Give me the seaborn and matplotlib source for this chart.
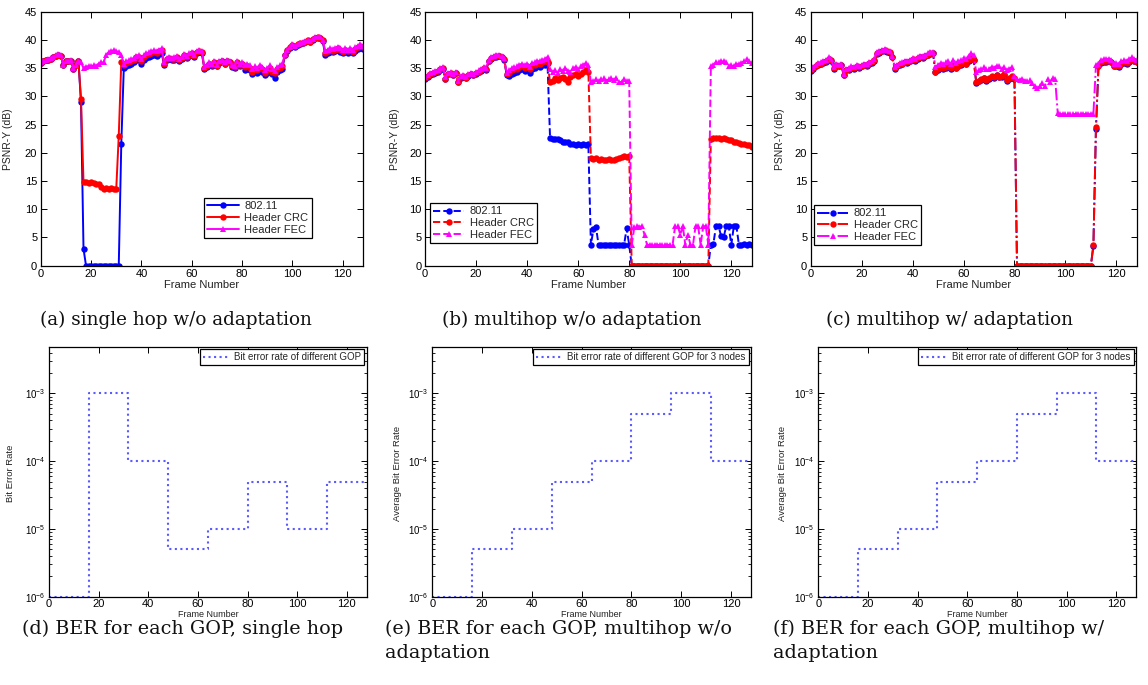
import matplotlib
matplotlib.use("Agg")
import matplotlib.pyplot as plt
import seaborn as sns
from matplotlib.ticker import LogLocator, NullFormatter

# frame index 0..128
FRAMES = list(range(129))
SERIES = ["802.11", "Header CRC", "Header FEC"]

# (a) single hop w/o adaptation, PSNR-Y in dB per frame
A_80211 = [
    35.9, 36.2, 36.4, 36.5, 36.7, 36.9, 37.2, 37.4, 37.2, 35.5, 36.2, 36.2, 36.3, 34.9, 35.5, 36.2,
    29.0, 3.0, 0, 0, 0, 0, 0, 0, 0, 0, 0, 0, 0, 0, 0, 0,
    21.5, 35.0, 35.4, 35.6, 35.8, 36.0, 36.4, 36.5, 35.8, 36.5, 36.8, 37.0, 37.2, 37.4, 37.2, 37.5,
    37.7, 35.6, 36.4, 36.6, 36.4, 36.5, 36.8, 36.2, 36.6, 37.1, 36.8, 37.2, 37.4, 36.9, 37.6, 37.9,
    37.6, 34.9, 35.2, 35.7, 35.4, 35.9, 35.3, 35.9, 36.2, 35.7, 36.2, 36.0, 35.2, 35.1, 35.9, 35.4,
    35.7, 34.7, 34.9, 34.6, 33.9, 34.4, 34.1, 34.7, 34.3, 33.7, 34.1, 34.6, 33.9, 33.3, 34.3, 34.6,
    34.9, 37.3, 38.1, 38.6, 39.0, 38.8, 39.1, 39.3, 39.4, 39.6, 39.8, 39.6, 40.0, 40.3, 40.4, 40.3,
    39.8, 37.4, 37.7, 37.9, 37.8, 38.0, 38.2, 37.9, 37.6, 38.0, 37.7, 38.0, 37.6, 38.1, 38.4, 38.6,
    38.4,
]
A_CRC = [
    35.9, 36.2, 36.4, 36.5, 36.7, 36.9, 37.2, 37.4, 37.2, 35.5, 36.2, 36.2, 36.3, 34.9, 35.5, 36.2,
    29.5, 14.8, 14.8, 14.7, 14.8, 14.7, 14.5, 14.4, 13.9, 13.6, 13.7, 13.5, 13.7, 13.6, 13.6, 23.0,
    36.0, 35.6, 35.9, 36.1, 36.3, 36.5, 36.9, 37.0, 36.3, 37.0, 37.3, 37.5, 37.7, 37.9, 37.7, 38.0,
    38.2, 35.8, 36.6, 36.8, 36.6, 36.7, 37.0, 36.4, 36.8, 37.3, 37.0, 37.4, 37.6, 37.1, 37.8, 38.1,
    37.8, 35.0, 35.3, 35.8, 35.5, 36.0, 35.4, 36.0, 36.3, 35.8, 36.3, 36.1, 35.3, 35.2, 36.0, 35.5,
    35.8, 35.2, 35.4, 35.1, 34.4, 34.9, 34.6, 35.2, 34.8, 34.2, 34.6, 35.1, 34.4, 34.1, 34.8, 35.1,
    35.4, 37.4, 38.2, 38.7, 39.1, 38.9, 39.2, 39.4, 39.5, 39.7, 39.9, 39.7, 40.1, 40.4, 40.5, 40.4,
    39.9, 37.7, 38.0, 38.2, 38.1, 38.3, 38.5, 38.2, 37.9, 38.3, 38.0, 38.3, 37.9, 38.4, 38.7, 38.9,
    38.7,
]
A_FEC = [
    36.0, 36.3, 36.5, 36.6, 36.8, 37.0, 37.3, 37.5, 37.3, 35.6, 36.3, 36.3, 36.4, 35.0, 35.6, 36.3,
    36.0, 35.0, 35.2, 35.4, 35.3, 35.5, 35.4, 35.8, 36.0, 36.0, 37.4, 37.8, 38.0, 38.2, 38.0, 37.9,
    37.4, 35.8, 36.2, 36.4, 36.6, 36.8, 37.2, 37.3, 36.6, 37.3, 37.6, 37.8, 38.0, 38.2, 38.0, 38.3,
    38.5, 36.0, 36.8, 37.0, 36.8, 36.9, 37.2, 36.6, 37.0, 37.5, 37.2, 37.6, 37.8, 37.3, 38.0, 38.3,
    38.0, 35.2, 35.5, 36.0, 35.7, 36.2, 35.6, 36.2, 36.5, 36.0, 36.5, 36.3, 35.5, 35.4, 36.2, 35.7,
    36.0, 35.6, 35.8, 35.5, 34.8, 35.3, 35.0, 35.6, 35.2, 34.6, 35.0, 35.5, 34.8, 34.5, 35.2, 35.5,
    35.8, 37.5, 38.3, 38.8, 39.2, 39.0, 39.3, 39.5, 39.6, 39.8, 40.0, 39.8, 40.2, 40.5, 40.6, 40.5,
    40.0, 38.0, 38.3, 38.5, 38.4, 38.6, 38.8, 38.5, 38.2, 38.6, 38.3, 38.6, 38.2, 38.7, 39.0, 39.2,
    39.0,
]

# (b) multihop w/o adaptation
B_80211 = [
    33.1, 33.5, 33.8, 34.0, 34.2, 34.4, 34.7, 34.9, 33.1, 33.9, 34.0, 33.7, 34.1, 32.5, 33.3, 33.5,
    33.2, 33.6, 33.9, 33.7, 34.0, 34.3, 34.5, 34.9, 34.7, 36.2, 36.7, 36.9, 37.0, 37.1, 36.9, 36.5,
    33.8, 33.6, 34.0, 34.2, 34.3, 34.6, 34.8, 34.5, 34.8, 34.2, 34.9, 35.0, 35.3, 35.2, 35.5, 35.6,
    35.9, 22.6, 22.5, 22.5, 22.4, 22.3, 22.0, 22.0, 21.9, 21.6, 21.5, 21.4, 21.5, 21.4, 21.5, 21.4,
    21.5, 3.7, 6.5, 6.8, 3.7, 3.7, 3.7, 3.6, 3.7, 3.6, 3.7, 3.6, 3.7, 3.7, 3.7, 6.6,
    3.7, 0, 0, 0, 0, 0, 0, 0, 0, 0, 0, 0, 0, 0, 0, 0,
    0, 0, 0, 0, 0, 0, 0, 0, 0, 0, 0, 0, 0, 0, 0, 0,
    3.7, 3.9, 7.0, 7.0, 5.3, 5.0, 7.0, 7.0, 3.7, 7.0, 7.0, 3.7, 3.7, 3.9, 3.7, 3.8,
    3.6,
]
B_CRC = [
    33.2, 33.6, 33.9, 34.1, 34.3, 34.5, 34.8, 35.0, 33.1, 34.0, 34.1, 33.8, 34.2, 32.5, 33.4, 33.6,
    33.3, 33.7, 34.0, 33.8, 34.1, 34.4, 34.6, 35.0, 34.8, 36.3, 36.8, 37.0, 37.1, 37.2, 37.0, 36.6,
    33.9, 34.2, 34.6, 34.8, 34.9, 35.2, 35.4, 35.1, 35.4, 34.8, 35.5, 35.6, 35.9, 35.8, 36.1, 36.2,
    36.1, 32.5, 32.8, 33.2, 32.9, 33.3, 33.5, 33.0, 32.6, 33.5, 33.8, 34.0, 33.6, 34.0, 34.3, 34.6,
    34.4, 19.0, 18.9, 19.0, 18.8, 18.9, 18.8, 18.8, 18.9, 18.7, 18.8, 18.9, 19.0, 19.3, 19.4, 19.3,
    19.4, 0, 0, 0, 0, 0, 0, 0, 0, 0, 0, 0, 0, 0, 0, 0,
    0, 0, 0, 0, 0, 0, 0, 0, 0, 0, 0, 0, 0, 0, 0, 0,
    22.5, 22.6, 22.6, 22.6, 22.5, 22.6, 22.4, 22.3, 22.2, 22.0, 21.9, 21.7, 21.6, 21.5, 21.4, 21.3,
    21.1,
]
B_FEC = [
    33.4, 33.8, 34.1, 34.3, 34.5, 34.7, 35.0, 35.2, 33.4, 34.2, 34.3, 34.0, 34.4, 32.8, 33.6, 33.8,
    33.5, 33.9, 34.2, 34.0, 34.3, 34.6, 34.8, 35.2, 35.0, 36.5, 37.0, 37.2, 37.3, 37.4, 37.2, 36.8,
    34.2, 34.6, 35.0, 35.2, 35.3, 35.6, 35.8, 35.5, 35.8, 35.2, 35.9, 36.0, 36.3, 36.2, 36.5, 36.6,
    37.0, 34.8, 34.3, 34.6, 34.2, 34.8, 34.5, 35.0, 34.5, 34.4, 35.0, 35.2, 34.8, 35.4, 35.6, 35.9,
    35.6, 32.6, 32.8, 33.0, 32.7, 33.0, 33.2, 32.8, 33.0, 33.3, 32.9, 33.2, 32.6, 32.5, 33.0, 32.8,
    32.8, 3.7, 6.8, 7.0, 6.9, 7.0, 5.5, 3.7, 3.7, 3.7, 3.7, 3.7, 3.7, 3.7, 3.7, 3.7,
    3.7, 3.7, 7.0, 7.1, 5.5, 7.0, 3.7, 5.5, 3.7, 3.7, 7.0, 7.0, 3.7, 7.0, 7.0, 3.7,
    35.3, 35.6, 36.0, 36.1, 36.2, 36.2, 36.0, 35.3, 35.5, 35.3, 35.8, 35.7, 35.9, 36.3, 36.6, 36.2,
    35.9,
]

# (c) multihop w/ adaptation
C_80211 = [
    34.5, 34.9, 35.3, 35.6, 35.7, 35.9, 36.1, 36.6, 36.3, 34.9, 35.4, 35.3, 35.5, 33.7, 34.6, 34.7,
    35.0, 34.9, 35.2, 35.1, 35.3, 35.5, 35.4, 35.8, 35.9, 36.3, 37.5, 37.7, 38.0, 38.1, 37.9, 37.7,
    36.9, 34.9, 35.3, 35.6, 35.7, 36.0, 35.9, 36.2, 36.5, 36.3, 36.7, 36.9, 36.8, 37.1, 37.3, 37.5,
    37.6, 34.3, 34.7, 35.0, 34.9, 35.1, 35.3, 34.9, 35.5, 35.0, 35.3, 35.6, 35.9, 35.7, 36.3, 36.7,
    36.4, 32.4, 32.7, 32.9, 33.2, 32.8, 33.1, 33.5, 33.3, 33.7, 33.4, 33.5, 33.8, 32.8, 33.1, 33.5,
    33.1, 0, 0, 0, 0, 0, 0, 0, 0, 0, 0, 0, 0, 0, 0, 0,
    0, 0, 0, 0, 0, 0, 0, 0, 0, 0, 0, 0, 0, 0, 0, 3.5,
    24.2, 35.3, 35.9, 36.1, 36.1, 36.2, 36.0, 35.3, 35.4, 35.2, 35.7, 35.9, 35.8, 36.1, 36.4, 36.2,
    36.0,
]
C_CRC = [
    34.6, 35.0, 35.4, 35.7, 35.8, 36.0, 36.2, 36.7, 36.4, 35.0, 35.5, 35.4, 35.6, 33.8, 34.7, 34.8,
    35.1, 35.0, 35.3, 35.2, 35.4, 35.6, 35.5, 35.9, 36.0, 36.4, 37.6, 37.8, 38.1, 38.2, 38.0, 37.8,
    37.0, 35.0, 35.4, 35.7, 35.8, 36.1, 36.0, 36.3, 36.6, 36.4, 36.8, 37.0, 36.9, 37.2, 37.4, 37.6,
    37.7, 34.4, 34.8, 35.1, 35.0, 35.2, 35.4, 35.0, 35.6, 35.1, 35.4, 35.7, 36.0, 35.8, 36.4, 36.8,
    36.5, 32.5, 32.8, 33.0, 33.3, 32.9, 33.2, 33.6, 33.4, 33.8, 33.5, 33.6, 33.9, 32.9, 33.2, 33.6,
    33.2, 0, 0, 0, 0, 0, 0, 0, 0, 0, 0, 0, 0, 0, 0, 0,
    0, 0, 0, 0, 0, 0, 0, 0, 0, 0, 0, 0, 0, 0, 0, 3.7,
    24.5, 35.4, 36.0, 36.2, 36.2, 36.3, 36.1, 35.4, 35.5, 35.3, 35.8, 36.0, 35.9, 36.2, 36.5, 36.3,
    36.1,
]
C_FEC = [
    34.8, 35.2, 35.6, 35.9, 36.0, 36.2, 36.4, 36.9, 36.6, 35.2, 35.7, 35.6, 35.8, 34.0, 34.9, 35.0,
    35.3, 35.2, 35.5, 35.4, 35.6, 35.8, 35.7, 36.1, 36.2, 36.6, 37.8, 38.0, 38.3, 38.4, 38.2, 38.0,
    37.2, 35.2, 35.6, 35.9, 36.0, 36.3, 36.2, 36.5, 36.8, 36.6, 37.0, 37.2, 37.1, 37.4, 37.6, 37.8,
    37.9, 35.2, 35.6, 35.9, 35.8, 36.0, 36.2, 35.8, 36.4, 35.9, 36.2, 36.5, 36.8, 36.6, 37.2, 37.6,
    37.3, 34.3, 34.6, 34.8, 35.2, 34.8, 34.9, 35.2, 35.1, 35.4, 35.3, 34.9, 35.2, 34.6, 34.9, 35.2,
    33.6, 33.0, 32.9, 33.1, 32.8, 32.7, 32.9, 32.4, 31.8, 31.5, 31.8, 32.3, 31.9, 33.0, 32.6, 33.2,
    33.0, 27.0, 26.9, 26.8, 26.9, 26.8, 26.9, 26.8, 26.9, 26.8, 26.8, 26.9, 26.8, 26.9, 26.8, 26.9,
    35.5, 35.8, 36.4, 36.6, 36.6, 36.7, 36.5, 35.8, 35.9, 35.7, 36.2, 36.4, 36.3, 36.6, 36.9, 36.7,
    36.5,
]

# bit error rate per GOP (start frame of each GOP, last value repeated at frame 128)
GOP_FRAMES = [0, 16, 32, 48, 64, 80, 96, 112, 128]
BER_SINGLE = [1e-6, 1e-3, 1e-4, 5e-6, 1e-5, 5e-5, 1e-5, 5e-5, 5e-5]
BER_MULTI_NOADAPT = [1e-6, 5e-6, 1e-5, 5e-5, 1e-4, 5e-4, 1e-3, 1e-4, 1e-4]
BER_MULTI_ADAPT = [1e-6, 5e-6, 1e-5, 5e-5, 1e-4, 5e-4, 1e-3, 1e-4, 1e-4]

SERIES_COLORS = ["#0000ff", "#ff0000", "#ff00ff"]
SERIES_MARKERS = ["o", "o", "^"]

sns.set_theme(style="white")
plt.rcParams.update({
    "font.family": ["Liberation Sans", "DejaVu Sans"],
    "xtick.direction": "in", "ytick.direction": "in",
    "xtick.top": True, "ytick.right": True,
    "xtick.bottom": True, "ytick.left": True,
    "xtick.major.size": 4, "ytick.major.size": 4,
    "xtick.minor.size": 2, "ytick.minor.size": 2,
    "xtick.major.width": 0.7, "ytick.major.width": 0.7,
    "xtick.minor.width": 0.6, "ytick.minor.width": 0.6,
    "xtick.major.pad": 2.5, "ytick.major.pad": 2.5,
    "axes.edgecolor": "black", "axes.linewidth": 0.9,
    "xtick.color": "black", "ytick.color": "black",
    "axes.labelcolor": "#222222",
})

fig = plt.figure(figsize=(11.48, 6.85), dpi=100)
W, H = 1148, 685


def add_axes(x0, x1, ytop, ybot):
    return fig.add_axes([x0 / W, 1 - ybot / H, (x1 - x0) / W, (ybot - ytop) / H])


def psnr_panel(ax, series, linestyle, anchor, ylab_x):
    for vals, name, color, marker in zip(series, SERIES, SERIES_COLORS, SERIES_MARKERS):
        sns.lineplot(x=FRAMES, y=vals, ax=ax, color=color, marker=marker, markersize=4.6,
                     markeredgewidth=0, linestyle=linestyle, linewidth=1.4, label=name)
    ax.set_xlim(0, 128)
    ax.set_ylim(0, 45)
    ax.set_xticks(range(0, 121, 20))
    ax.set_yticks(range(0, 46, 5))
    ax.tick_params(labelsize=8)
    ax.set_xlabel("Frame Number", fontsize=8)
    ax.set_ylabel("PSNR-Y (dB)", fontsize=7.5)
    ax.xaxis.set_label_coords(0.5, -0.058)
    ax.yaxis.set_label_coords(ylab_x, 0.5)
    leg = ax.legend(loc="lower left", bbox_to_anchor=anchor, borderaxespad=0, fancybox=False,
                    edgecolor="black", framealpha=1, fontsize=8, handlelength=2.8,
                    labelspacing=0.15, borderpad=0.3, handletextpad=0.5)
    leg.get_frame().set_linewidth(0.9)


def ber_panel(ax, vals, label, ylabel, ylab_x):
    sns.lineplot(x=GOP_FRAMES, y=vals, ax=ax, drawstyle="steps-post", color="#5a5aff",
                 linestyle=":", linewidth=1.5, label=label)
    ax.set_yscale("log")
    ax.set_xlim(0, 128)
    ax.set_ylim(1e-6, 4.9e-3)
    ax.set_xticks(range(0, 121, 20))
    ax.yaxis.set_major_locator(LogLocator(base=10, numticks=10))
    ax.yaxis.set_minor_locator(LogLocator(base=10, subs=range(2, 10), numticks=40))
    ax.yaxis.set_minor_formatter(NullFormatter())
    ax.tick_params(axis="x", labelsize=8, pad=2)
    ax.tick_params(axis="y", which="major", labelsize=7)
    ax.set_xlabel("Frame Number", fontsize=6.5)
    ax.set_ylabel(ylabel, fontsize=6.8)
    ax.xaxis.set_label_coords(0.5, -0.052)
    ax.yaxis.set_label_coords(ylab_x, 0.495)
    leg = ax.legend(loc="upper right", borderaxespad=0.25, fancybox=False, edgecolor="black",
                    framealpha=1, fontsize=7, handlelength=2.6, borderpad=0.3, handletextpad=0.6)
    leg.get_frame().set_linewidth(0.9)


ax_a = add_axes(40.7, 363, 11.7, 265.7)
ax_b = add_axes(425, 751.7, 11.7, 265.7)
ax_c = add_axes(810.7, 1136.7, 11.7, 265.7)
psnr_panel(ax_a, [A_80211, A_CRC, A_FEC], "-", (0.507, 0.109), -0.085)
psnr_panel(ax_b, [B_80211, B_CRC, B_FEC], "--", (0.015, 0.089), -0.077)
psnr_panel(ax_c, [C_80211, C_CRC, C_FEC], "-.", (0.010, 0.081), -0.079)

ax_d = add_axes(49, 366.7, 346.7, 596.7)
ax_e = add_axes(432.3, 751, 346.7, 596.7)
ax_f = add_axes(818.3, 1136, 346.7, 596.7)
ber_panel(ax_d, BER_SINGLE, "Bit error rate of different GOP", "Bit Error Rate", -0.107)
ber_panel(ax_e, BER_MULTI_NOADAPT, "Bit error rate of different GOP for 3 nodes",
          "Average Bit Error Rate", -0.096)
ber_panel(ax_f, BER_MULTI_ADAPT, "Bit error rate of different GOP for 3 nodes",
          "Average Bit Error Rate", -0.0995)

top_cap = dict(family="DejaVu Serif", size=13.2, color="#111111")
bot_cap = dict(family="DejaVu Serif", size=13.8, color="#111111")
fig.text(176 / W, 1 - 320 / H, "(a) single hop w/o adaptation", ha="center", va="center", **top_cap)
fig.text(572 / W, 1 - 320 / H, "(b) multihop w/o adaptation", ha="center", va="center", **top_cap)
fig.text(950 / W, 1 - 320 / H, "(c) multihop w/ adaptation", ha="center", va="center", **top_cap)
fig.text(22 / W, 1 - 629 / H, "(d) BER for each GOP, single hop", ha="left", va="center", **bot_cap)
fig.text(385 / W, 1 - 629 / H, "(e) BER for each GOP, multihop w/o", ha="left", va="center", **bot_cap)
fig.text(385 / W, 1 - 653 / H, "adaptation", ha="left", va="center", **bot_cap)
fig.text(773 / W, 1 - 629 / H, "(f) BER for each GOP, multihop w/", ha="left", va="center", **bot_cap)
fig.text(773 / W, 1 - 653 / H, "adaptation", ha="left", va="center", **bot_cap)

fig.savefig("out.png", dpi=100)
